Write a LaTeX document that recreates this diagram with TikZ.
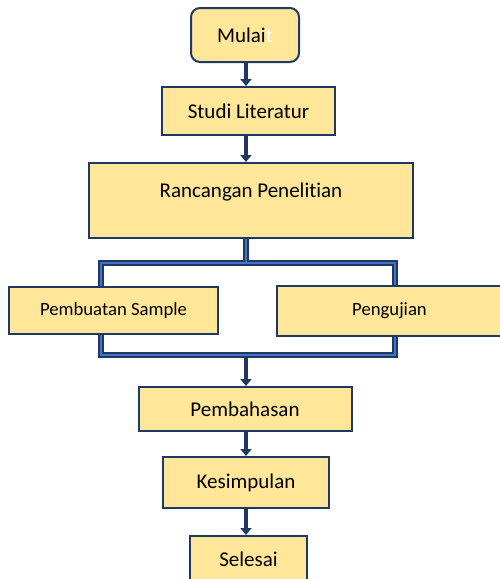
\documentclass[tikz,border=0pt]{standalone}
\usepackage{fontspec}
\setmainfont{Carlito}[Ligatures={NoCommon}]
\usetikzlibrary{arrows.meta}
\definecolor{boxfill}{HTML}{FFE699}
\definecolor{navy}{HTML}{203864}
\definecolor{midblue}{HTML}{4472C4}
\begin{document}
\begin{tikzpicture}[x=1pt,y=-1pt,
  box/.style={draw=navy, line width=2pt, fill=boxfill, inner sep=0pt, font=\fontsize{21}{25}\selectfont},
  smallbox/.style={box, font=\fontsize{18.7}{22}\selectfont},
  flow/.style={draw=navy, line width=4pt, -{Triangle[width=11pt,length=7pt]}},
  bracket/.style={draw=navy, line width=1.3pt, double=midblue, double distance=2.6pt}]
\useasboundingbox (0,0) rectangle (499,579);
\node[box, rounded corners=9pt, minimum width=108pt, minimum height=54pt] (mulai) at (245,35) {Mulai\textcolor{white}{t}};
\node[box, minimum width=173pt, minimum height=48pt] (studi) at (248.5,111) {Studi Literatur};
\node[box, minimum width=324pt, minimum height=75pt] (rancang) at (251,200.5) {\raisebox{20pt}{Rancangan Penelitian}};
\node[smallbox, minimum width=209pt, minimum height=47pt] (sample) at (113.5,310.5) {Pembuatan Sample};
\node[smallbox, minimum width=225pt, minimum height=50pt] (uji) at (389.5,311) {Pengujian};
\node[box, minimum width=213pt, minimum height=44pt] (bahas) at (245,409) {Pembahasan};
\node[box, minimum width=166pt, minimum height=51pt] (simpul) at (246,482.5) {Kesimpulan};
\node[box, minimum width=117pt, minimum height=47pt] (selesai) at (248.5,559.5) {Selesai};
% bracket split and join
\coordinate (topl) at (101,263);
\coordinate (topr) at (395,263);
\coordinate (botl) at (101,355);
\coordinate (botr) at (395,355);
\draw[bracket] (topl |- sample.north) -- (topl) -- (topr) -- (topr |- uji.north);
\draw[bracket] (rancang.south -| 246,0) -- (246,261.5);
\draw[bracket] (botl |- sample.south) -- (botl) -- (botr) -- (botr |- uji.south);
% arrows
\draw[flow] (mulai.south -| 246,0) -- (246,0 |- studi.north);
\draw[flow] (studi.south -| 246,0) -- (246,0 |- rancang.north);
\draw[flow] (246,357) -- (246,0 |- bahas.north);
\draw[flow] (bahas.south -| 246,0) -- (246,0 |- simpul.north);
\draw[flow] (simpul.south -| 246,0) -- (246,0 |- selesai.north);
\end{tikzpicture}
\end{document}
